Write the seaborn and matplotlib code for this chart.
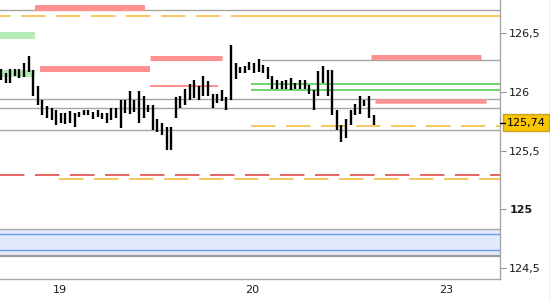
import matplotlib
matplotlib.use("Agg")
import matplotlib.pyplot as plt
from matplotlib.lines import Line2D
import numpy as np
import pandas as pd
import seaborn as sns

# ---- data -------------------------------------------------------------
bar_high = [126.20, 126.16, 126.20, 126.20, 126.20, 126.25, 126.31, 126.19, 126.05, 125.93,
            125.88, 125.86, 125.85, 125.82, 125.82, 125.84, 125.82, 125.83, 125.85, 125.85,
            125.83, 125.85, 125.82, 125.82, 125.86, 125.86, 125.93, 125.93, 126.01, 125.93,
            126.01, 125.97, 125.89, 125.89, 125.77, 125.74, 125.70, 125.70, 125.96, 125.97,
            126.03, 126.07, 126.10, 126.05, 126.14, 126.09, 125.98, 125.98, 126.02, 125.96,
            126.40, 126.25, 126.21, 126.22, 126.26, 126.25, 126.28, 126.23, 126.21, 126.14,
            126.10, 126.09, 126.10, 126.12, 126.08, 126.10, 126.10, 126.06, 126.02, 126.18,
            126.22, 126.19, 126.19, 125.85, 125.72, 125.77, 125.85, 125.90, 125.97, 125.93,
            125.97, 125.80]
bar_low = [126.10, 126.08, 126.08, 126.14, 126.12, 126.13, 126.17, 125.97, 125.89, 125.80,
           125.78, 125.76, 125.72, 125.74, 125.73, 125.74, 125.70, 125.79, 125.80, 125.80,
           125.77, 125.79, 125.77, 125.74, 125.76, 125.78, 125.69, 125.82, 125.81, 125.83,
           125.74, 125.78, 125.83, 125.68, 125.66, 125.63, 125.51, 125.51, 125.78, 125.86,
           125.89, 125.93, 125.95, 125.93, 125.97, 125.97, 125.86, 125.91, 125.92, 125.85,
           125.93, 126.11, 126.16, 126.16, 126.19, 126.16, 126.17, 126.16, 126.11, 126.03,
           126.03, 126.03, 126.03, 126.02, 126.03, 126.03, 126.03, 125.98, 125.85, 125.97,
           126.08, 125.97, 125.80, 125.68, 125.57, 125.61, 125.72, 125.80, 125.81, 125.88,
           125.78, 125.72]
last_price = 125.74

day_ticks = [12.74, 54.7, 96.7]
day_labels = ["19", "20", "23"]
y_ticks = [124.5, 125.0, 125.5, 126.0, 126.5]
y_labels = ["124,5", "125", "125,5", "126", "126,5"]

# full-width gray levels
gray_levels = [126.70, 125.94, 125.86, 125.68]
# pink zones: (level, start, end, thickness px)
pink_levels = [126.72, 126.20, 126.29, 126.05, 126.30, 125.92]
pink_start = [7.4, 8.5, 32.4, 32.4, 80.4, 81.3]
pink_end = [31.3, 32.4, 48.0, 47.2, 104.3, 105.4]
pink_width = [6, 6, 5, 2, 5, 4.5]
# pale green zones
green_zone_lo = [126.45, 126.13]
green_zone_hi = [126.51, 126.19]
# green lines
green_levels = [126.07, 126.02]
# blue band
band_lo, band_hi = 124.60, 124.83
blue_levels = [124.79, 124.65]

# ---- figure -----------------------------------------------------------
sns.set_style("white")
plt.rcParams["font.family"] = ["DejaVu Sans"]
plt.rcParams["lines.scale_dashes"] = False

fig = plt.figure(figsize=(5.5, 3), dpi=100)
ax = fig.add_axes([0, 21 / 300, 499.5 / 550, 279 / 300])
XL, XR = -0.22, 108.37
ax.set_xlim(XL, XR)
ax.set_ylim(124.407, 126.784)

dash = (0, (17.6, 7.6))

# blue band
ax.axhspan(band_lo, band_hi, color="#E2E9FA", lw=0, zorder=1)
for lv in blue_levels:
    ax.axhline(lv, color="#6F9BEF", lw=1.0, zorder=2)
ax.axhline(band_hi, color="#A8A8A8", lw=1.0, zorder=2)
ax.axhline(band_lo, color="#9A9A9A", lw=1.6, zorder=2)

# green zones
for lo, hi in zip(green_zone_lo, green_zone_hi):
    ax.fill_between([XL, 7.4], lo, hi, color="#B6ECB6", lw=0, zorder=1)

# gray lines
for lv in gray_levels:
    ax.axhline(lv, color="#A6A6A6", lw=1.0, zorder=2)
ax.hlines(126.27, 56.5, XR, color="#A6A6A6", lw=1.0, zorder=2)

# green lines
ax.hlines(green_levels, 54.3, XR, color="#44CC44", lw=1.1, zorder=3)

# orange / red dashed
ax.hlines(126.65, XL, 47.9, color="#F7B733", lw=1.1, linestyles=[(14 * 0.72, (17.6, 7.6))], zorder=2)
ax.hlines(126.65, 50.0, XR, color="#F7B733", lw=1.1, zorder=2)
ax.hlines(125.71, 54.3, XR, color="#F7B733", lw=1.1, linestyles=[dash], zorder=2)
ax.hlines(125.29, XL, XR, color="#DD3A3A", lw=1.1, linestyles=[dash], zorder=2)
ax.hlines(125.26, 12.6, XR, color="#F7B733", lw=1.1, linestyles=[dash], zorder=2)

# pink zones
for lv, s, e, w in zip(pink_levels, pink_start, pink_end, pink_width):
    ax.hlines(lv, s, e, color="#FF9191", lw=w * 0.72, zorder=3)

# price bars via seaborn
n = len(bar_high)
df = pd.DataFrame({"t": np.arange(n), "high": bar_high, "low": bar_low})
long = df.melt(id_vars="t", value_vars=["low", "high"], value_name="price")
sns.lineplot(data=long, x="t", y="price", units="t", estimator=None,
             color="black", lw=1.7, ax=ax, zorder=5, solid_capstyle="butt")

# axes styling
ax.set_xlabel("")
ax.set_ylabel("")
for s in ["top", "left"]:
    ax.spines[s].set_visible(False)
for s in ["right", "bottom"]:
    ax.spines[s].set_color("#A6A6A6")
    ax.spines[s].set_linewidth(1.0)
ax.yaxis.tick_right()
ax.set_yticks(y_ticks)
ax.set_yticklabels(y_labels)
ax.set_xticks(day_ticks)
ax.set_xticklabels(day_labels)
ax.tick_params(axis="both", direction="out", length=4, width=0.8, color="#999999",
               labelsize=8, labelcolor="#1A1A1A", pad=3)
ax.tick_params(axis="x", length=3, pad=1.5)
for lab in ax.get_yticklabels():
    if lab.get_text() == "125":
        lab.set_fontweight("bold")

# last price marker
ax.plot([1.0, 1.012], [last_price, last_price], transform=ax.get_yaxis_transform(),
        color="black", lw=1.0, clip_on=False, zorder=6)
ax.text(1.014, last_price, "125,74", transform=ax.get_yaxis_transform(),
        va="center", ha="left", fontsize=8, color="black",
        bbox=dict(boxstyle="square,pad=0.3", fc="#F8C600", ec="#C9A227", lw=1))

fig.add_artist(Line2D([549.5 / 550] * 2, [0, 1], color="#A6A6A6", lw=1.0))

fig.savefig("out.png", dpi=100)
